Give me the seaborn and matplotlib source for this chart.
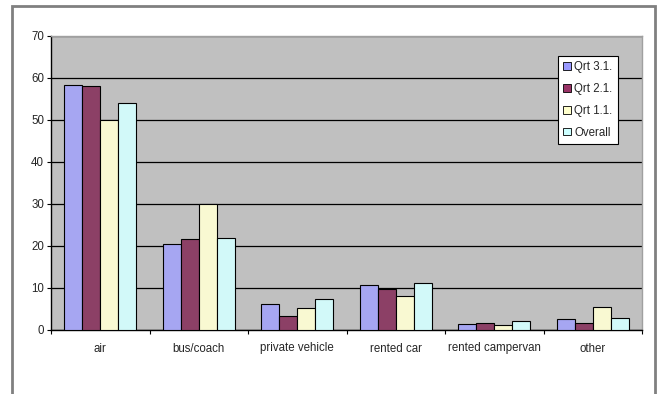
import matplotlib
matplotlib.use("Agg")
import matplotlib.pyplot as plt
from matplotlib.patches import Rectangle, Patch
import seaborn as sns
import pandas as pd

# Mode of transport shares (%) by quarter
categories = ["air", "bus/coach", "private vehicle", "rented car", "rented campervan", "other"]
series_names = ["Qrt 3.1.", "Qrt 2.1.", "Qrt 1.1.", "Overall"]
qrt31 = [58.3, 20.4, 6.2, 10.8, 1.5, 2.6]
qrt21 = [58.0, 21.7, 3.3, 9.8, 1.6, 1.6]
qrt11 = [50.0, 30.0, 5.2, 8.2, 1.2, 5.4]
overall = [54.1, 22.0, 7.5, 11.1, 2.1, 2.9]
colors = ["#9999FF", "#993366", "#FFFFCC", "#CCFFFF"]
yticks = [0, 10, 20, 30, 40, 50, 60, 70]

rows = []
for name, vals in zip(series_names, [qrt31, qrt21, qrt11, overall]):
    for cat, v in zip(categories, vals):
        rows.append({"mode": cat, "series": name, "value": v})
df = pd.DataFrame(rows)

sns.set_style("white")
plt.rcParams["font.family"] = ["Liberation Sans", "DejaVu Sans"]

W, H = 660, 394
fig = plt.figure(figsize=(W / 100, H / 100), dpi=100)

# Outer chart frame
fig.patches.append(Rectangle((12 / W, -0.05), (655 - 12) / W, 1.05 - 6 / H,
                             transform=fig.transFigure, fill=False,
                             edgecolor="#808080", linewidth=2))

ax = fig.add_axes([51 / W, (H - 330) / H, 591 / W, 294 / H])
ax.set_facecolor("#C0C0C0")

sns.barplot(data=df, x="mode", y="value", hue="series", order=categories,
            hue_order=series_names, palette=colors, width=0.73,
            edgecolor="black", linewidth=0.8, ax=ax, legend=False, zorder=3)

ax.set_ylim(0, 70)
ax.set_xlim(-0.5, len(categories) - 0.5)
ax.set_yticks(yticks)
ax.yaxis.grid(True, color="black", linewidth=0.9, zorder=1)
ax.set_axisbelow(True)
ax.set_xlabel("")
ax.set_ylabel("")

for side in ["top", "right"]:
    ax.spines[side].set_color("#A0A0A0")
    ax.spines[side].set_linewidth(1)
for side in ["left", "bottom"]:
    ax.spines[side].set_color("black")
    ax.spines[side].set_linewidth(1)

ax.tick_params(axis="y", direction="out", length=3, width=0.8, pad=2,
               labelsize=8.3, left=True, color="black")
ax.tick_params(axis="x", which="major", length=0, pad=9, labelsize=8.3)
ax.set_xticks([i - 0.5 for i in range(len(categories) + 1)], minor=True)
ax.tick_params(axis="x", which="minor", direction="out", length=3,
               width=0.8, bottom=True, color="black")

handles = [Patch(facecolor=c, edgecolor="black", linewidth=0.6) for c in colors]
leg = ax.legend(handles, series_names, loc="upper left",
                bbox_to_anchor=((558 - 51) / 591, (330 - 56) / 294),
                frameon=True, fancybox=False, fontsize=8.3,
                handlelength=0.65, handleheight=0.65, handletextpad=0.3,
                labelspacing=0.85, borderpad=0.45, borderaxespad=0)
leg.get_frame().set_edgecolor("black")
leg.get_frame().set_linewidth(0.8)
leg.get_frame().set_facecolor("white")
leg.get_frame().set_alpha(1)

fig.savefig("out.png", dpi=100)
